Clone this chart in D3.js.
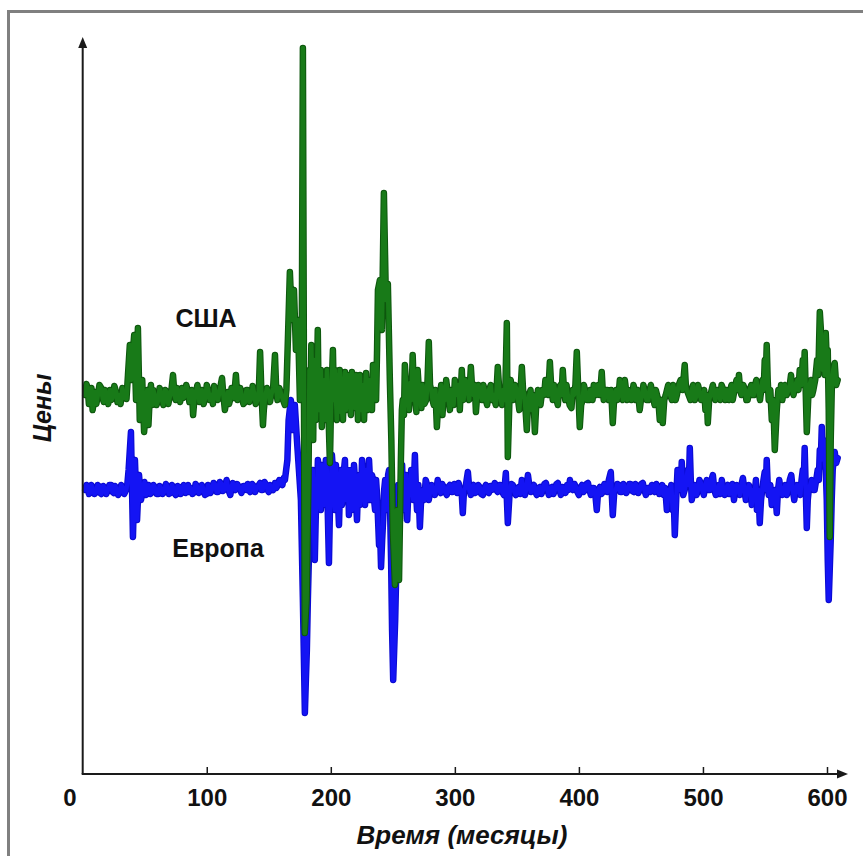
<!DOCTYPE html>
<html>
<head>
<meta charset="utf-8">
<script src="https://cdn.jsdelivr.net/npm/d3@7"></script>
<style>
  body { margin: 0; background: #fff; }
  svg { display: block; }
</style>
</head>
<body>
<svg id="chart" width="863" height="856"></svg>
<script>
// Monthly price series: [month, price]
const usaSeries = [
  [2,37.9],[3,39.0],[4,38.6],[5,37.0],[6,37.4],[7,38.6],[8,36.4],[9,37.4],[10,38.2],[11,37.0],[12,37.7],[13.5,38.9],[15,38.6],[16,37.6],[17,37.2],[18,38.4],[19,38.0],[20.5,37.0],[22,38.4],
  [23,37.4],[24,37.6],[25.5,38.8],[27,38.2],[28,37.2],[29,37.9],[30.5,37.0],[32,38.6],[33,37.6],[34,38.2],[35.3,37.5],[36.5,39.9],[38,42.9],[39,39.4],[40,41.4],[41.5,43.9],[43,37.4],
  [44.5,44.6],[46,35.4],[47,37.9],[48,39.4],[49.5,34.2],[51,36.4],[52,38.4],[53,34.9],[54,37.6],[55,38.9],[56,36.9],[57,38.4],[58,37.9],[59.5,36.9],[61,37.4],
  [62,38.6],[63,38.2],[64,37.4],[65,36.9],[66.5,38.4],[68,38.2],[69,37.0],[70,37.6],[71.5,38.4],[72.8,39.9],[74,37.9],[75,37.4],[76,38.6],[77,38.0],[78.5,37.2],[80,38.6],[81,37.6],[82,37.7],[83.5,38.9],[85,38.2],
  [86,37.2],[87,37.6],[88,38.4],[89,35.9],[90,37.4],[91,38.0],[92.5,38.9],[94,37.2],[95,37.9],[96,38.4],[97.5,37.0],[99,37.7],[100,38.9],[101,38.5],[102.5,37.4],[104,37.9],[105,37.0],[106,38.8],[107.5,38.0],[109,37.4],
  [110.5,38.4],[112.3,39.6],[113.4,37.9],[114.6,36.4],[116,37.4],[117,38.2],[118,37.0],[119,37.5],[120,38.6],[121,38.4],[122,37.6],[123.5,39.9],[124.8,37.4],[126,37.6],[127,38.6],[128,38.0],[129.5,37.0],[131,37.2],[132,38.4],[133,38.4],
  [134.5,37.2],[136,37.6],[137,38.8],[138,38.2],[139.5,37.0],[141,37.4],[142,38.4],[143,42.2],[144,38.4],[145.3,34.9],[146,36.4],[147,37.6],[148.5,38.6],[150,38.2],[151,37.2],[152,37.9],[153.5,38.6],[155,41.9],[156,38.4],[157,37.4],
  [158.5,38.6],[160,38.0],[161.5,37.4],[163,36.9],[164.2,38.4],[165.4,43.4],[167,50.2],[168.6,45.4],[170.3,48.4],[171.9,42.4],[173.5,45.4],[175.1,37.4],[176.5,39.4],
  [177.5,72.6],[179,14.1],[180.5,17.4],[181.3,24.0],[182,29.4],[182.8,40.4],[183.5,35.4],[184.3,42.9],[185,38.4],[185.8,33.4],[186.5,41.4],[187.3,37.9],[188,35.4],[188.8,39.4],[189.5,44.4],[190.3,36.4],[191.2,37.4],[192,40.4],
  [192.8,34.7],[193.6,38.9],[194.4,36.4],[195.2,39.4],[196,35.4],[196.9,40.4],[197.7,37.9],[198.5,34.4],[199.3,31.1],[200.1,36.4],[200.9,39.4],[201.7,42.4],[202.5,37.4],[203.3,40.4],[204,38.0],[204.9,35.4],[205.6,39.9],[206.4,36.2],
  [207.2,40.4],[208.1,38.4],[209,36.4],[209.8,35.4],[210.6,38.4],[211.4,40.2],[212.2,36.4],[213,37.0],[213.8,39.9],[214.6,36.9],[215.4,38.5],[216.2,35.9],[217,40.2],[217.9,37.4],[218.7,39.4],[219.5,36.6],[220.3,39.9],[221.1,38.6],
  [221.9,35.4],[222.7,38.4],[223.5,39.9],[224.3,36.4],[225.1,38.9],[226,37.0],[226.8,35.4],[227.6,38.4],[228.4,40.1],[229.2,37.4],[230,36.4],[230.8,39.4],[231.6,37.4],[232.4,38.2],[233.2,36.4],[234,40.9],[234.9,37.9],[235.7,39.4],
  [236.5,37.4],[237.3,42.4],[238,48.4],[239.6,49.4],[241.2,44.4],[242.8,58.1],[244.4,47.4],[246,49.0],[247.6,39.4],[248.8,33.4],[250,24.4],[251.7,18.9],
  [253.3,26.4],[255,19.4],[256.5,31.4],[257.3,36.4],[258,37.4],[259,35.9],[259.7,40.9],[261,38.4],[262,37.9],[263,36.4],[264,39.1],[265,37.4],[266,41.9],[267,38.4],[268,37.4],[269,36.2],[270,40.4],
  [271,38.4],[272,37.9],[273,36.6],[274,38.9],[275.5,37.0],[277,37.4],[278,39.4],[279,43.2],[280,38.9],[281,38.4],[282,37.4],[283,36.9],[284.3,38.4],[285.5,34.7],[286.8,37.4],[288,37.9],[289,38.9],[290,35.9],[291,37.9],[292,37.4],
  [293,39.4],[294,38.4],[295,37.4],[296,36.4],[297,38.4],[298,37.9],[299,36.9],[300,39.4],[301,38.4],[302,37.9],[303,38.9],[304,36.4],[305.6,40.4],[306.3,38.4],[307,37.4],[308.5,39.4],[310,38.9],[311.5,37.4],[312.9,40.7],
  [314,38.4],[315,37.9],[316,38.9],[317,36.2],[318,37.9],[319,38.9],[320.5,37.9],[322,37.4],[323,38.9],[324,38.4],[325,37.4],[326,36.9],[327.5,38.4],[329,38.9],[330,37.4],[331,37.9],[333,36.9],[334.6,40.7],[335.8,38.4],[337,37.4],
  [338,36.9],[339,38.4],[340.5,37.4],[341.9,45.1],[342.7,31.7],[344,37.4],[345,39.4],[346,38.4],[347,37.4],[348.5,38.9],[350,38.4],[351,37.4],[352,36.4],[353,38.4],[354,40.7],[355,38.4],[356,37.9],[357,36.4],[358,34.4],
  [359,36.9],[360,37.9],[361,38.4],[362,36.4],[363.3,37.9],[364.5,34.2],[365.8,37.4],[367,38.4],[368,37.4],[369,36.9],[370.5,38.4],[372,37.9],[373,39.4],[374,38.9],[375.3,37.9],[376.6,41.2],[377.8,38.4],[379,37.4],[380,38.9],[381,38.2],
  [382,37.4],[383,36.9],[384,38.4],[385,38.9],[386,37.9],[387,40.4],[388,38.4],[389,37.4],[390,38.9],[391,37.9],[392.5,36.9],[394,36.6],[395,38.4],[396,37.9],[397.2,38.9],[398.3,42.2],[399.5,38.4],[400.7,34.7],[401.8,36.9],[403,37.4],
  [404,38.9],[405,38.4],[406.5,37.4],[408,37.4],[409,38.4],[410,37.9],[411,37.4],[412,38.9],[413,38.4],[414,37.9],[415.5,38.9],[417,37.9],[418.4,40.2],[419.2,38.4],[420,37.4],[421.5,38.4],[423,38.4],[424,37.4],[425,37.4],[426,38.4],[427.3,35.1],
  [428.6,37.9],[430,38.4],[431,37.4],[432,37.9],[433,39.4],[434,38.9],[435.5,37.4],[437,39.4],[438,38.4],[439,37.4],[440,38.4],[441,37.9],[442.5,37.4],[444,38.9],[445,38.4],[446,37.4],[447.5,38.4],[449,36.4],[450,37.4],[451,37.9],
  [452,38.9],[453,38.4],[454.5,37.4],[456,37.4],[457,38.4],[458,38.9],[459.5,37.9],[461,36.9],[462,38.4],[463,37.9],[464,37.4],[465.2,35.4],[466.4,37.4],[467.6,35.1],[468.8,37.4],[470,37.9],[471,38.4],[472,38.9],[473.5,37.9],[475,37.4],
  [476,38.9],[477,38.4],[478,37.4],[479,37.9],[480.5,38.9],[482,39.4],[483.6,38.4],[485.3,40.9],[486.2,38.9],[487,38.4],[488.5,37.9],[490,37.4],[491,38.4],[492,38.9],[493.5,37.4],[495,37.9],[496,38.9],[497,38.4],[498.5,37.4],[500,37.4],
  [501,38.4],[502,36.4],[503,37.9],[503.9,35.1],[505,37.4],[506,37.9],[507,38.4],[508,38.9],[509,37.9],[510,37.4],[511.5,38.4],[513,37.9],[514,37.4],[515,38.9],[516.5,38.4],[518,37.4],[519,38.4],[520,37.9],[521,37.4],[522,38.4],
  [523,38.9],[524,37.4],[525.5,38.4],[527,39.4],[528,38.4],[529,39.9],[530,38.4],[531,37.9],[532.5,38.9],[534,38.4],[535,37.4],[536,37.4],[537.5,38.4],[539,38.9],[540,37.9],[541,37.9],[542,38.9],[543,39.4],[544.5,38.4],[546,37.4],
  [547,38.4],[548,39.4],[549,38.4],[549.8,41.4],[550.6,39.4],[551.4,42.9],[552.2,39.4],[553,37.4],[554.3,38.4],[555.5,35.4],[556.7,37.4],[557.9,32.4],[559.5,36.4],[560.8,38.4],[562,37.9],[563,38.9],[564,37.4],[565,38.4],[566,38.9],
  [567.5,37.9],[569,38.4],[570,38.9],[571,39.9],[572,38.4],[573,37.9],[574.5,38.9],[576,39.4],[577,38.4],[578,40.4],[579.3,38.9],[580.5,41.4],[581.3,39.4],[582,42.2],[583.7,34.2],[585,37.9],[586,38.9],[587,39.4],[588,37.9],
  [589,38.4],[590.5,39.4],[592,41.4],[593,39.9],[594.2,46.2],[595.8,42.9],[596.6,40.4],[597.4,41.4],[598.2,39.9],[599,44.1],[599.8,41.4],[600.6,42.4],[601.4,36.4],[602.2,23.7],[603,33.4],[604,39.4],[605,40.4],[606.2,41.1],[607.4,38.9],
  [608.6,39.4]
];

const europeSeries = [
  [2,28.4],[3,28.9],[4,28.7],[5,28.0],[6,28.1],[7,28.9],[8,28.6],[9.5,28.0],[11,28.2],[12,28.9],[13,28.8],[14,28.1],[15,28.0],[16.5,28.8],[18,28.5],[19,28.0],[20,28.3],[21.5,28.9],[23,28.9],[24,28.2],
  [25,28.1],[26,28.8],[27,28.6],[28.5,27.9],[30,28.2],[31,28.9],[32,28.7],[33.5,28.0],[35,28.4],[36,29.0],[37,30.4],[38.9,34.2],[40.5,23.7],[42.1,31.4],[43.8,25.4],
  [45.4,29.9],[47,27.4],[48.6,28.6],[49.8,29.2],[51,27.9],[52,28.4],[53,28.9],[54.5,28.0],[56,28.2],[57,28.9],[58,28.7],[59.5,28.0],[61,28.0],[62,28.8],[63,28.6],[64.5,28.0],[66,28.3],
  [67,29.0],[68,28.8],[69.5,28.0],[71,28.1],[72,28.9],[73,28.6],[74,28.1],[75,27.9],[76.5,28.8],[78,28.7],[79,28.0],[80,28.4],[81.5,28.9],[83,28.1],[84,28.6],[85,28.9],[86,28.2],[87,28.6],[88.5,28.0],[90,28.2],
  [91,29.0],[92,28.8],[93.5,28.1],[95,28.3],[96,28.9],[97,28.6],[98.5,27.9],[100,28.0],[101,28.9],[102,28.7],[103,28.1],[104,28.4],[105.5,29.1],[107,28.9],[108,28.2],[109,28.2],[110.5,29.2],[112,29.0],[113,28.3],[114,28.4],
  [115,28.8],[116,29.4],[117.5,28.4],[119,27.9],[120,28.7],[121,29.1],[122,28.6],[123,28.4],[124.5,29.0],[126,28.7],[127,28.4],[128,28.1],[129.5,28.8],[131,28.8],[132,28.4],[133,29.0],[134,28.4],[135,28.2],[136.5,29.0],[138,28.8],
  [139,28.2],[140,28.5],[141.5,28.8],[143,29.1],[144,28.4],[145,28.4],[146.5,29.2],[148,28.9],[149,28.4],[150,28.2],[151,28.9],[152,28.6],[153.5,28.4],[155,29.1],[156,28.6],[157,28.8],[158.5,29.4],[160,29.1],[161,28.9],[162,29.6],
  [163,29.4],[164,30.4],[165,31.4],[166,35.4],[167.8,37.4],[169.4,34.4],[171,36.9],[172.7,33.4],[174.3,30.4],[175.9,27.4],[177.5,17.4],[179.1,6.1],
  [179.9,9.4],[180.7,12.4],[181.5,17.4],[182.3,21.4],[183.1,27.4],[183.9,25.4],[184.7,29.4],[185.5,30.4],[186.3,25.4],[187.1,21.4],[187.9,25.9],[188.8,27.4],[189.6,31.4],[190.4,30.4],[191.2,27.9],[192,26.4],[192.8,30.9],[193.6,29.4],
  [194.4,26.9],[195.2,27.4],[196,31.4],[196.8,30.4],[197.7,25.4],[198.5,21.1],[199.3,26.4],[200.1,28.4],[200.9,31.9],[201.7,30.4],[202.5,27.4],[203.3,26.4],[204.1,30.9],[204.9,29.4],[205.7,27.4],[206.6,24.9],[207.4,28.4],[208.2,30.4],
  [209,26.9],[209.8,27.4],[210.6,30.4],[211.4,31.4],[212.2,27.4],[213,28.4],[213.8,30.4],[214.6,25.9],[215.4,28.9],[216.3,30.4],[217.1,26.4],[217.9,27.4],[218.7,30.9],[219.5,29.4],[220.3,27.4],[221.1,25.4],[221.9,28.4],[222.7,29.9],
  [223.5,26.9],[224.4,27.9],[225.2,31.4],[226,30.4],[226.8,28.4],[227.6,26.9],[228.4,30.4],[229.2,28.9],[230,27.4],[230.8,31.4],[231.6,29.4],[232.4,27.4],[233.2,29.9],[234.1,29.4],[234.9,27.4],[235.7,26.4],[236.5,29.4],[237.3,27.9],
  [238.1,25.4],[238.9,22.9],[239.7,24.4],[240.5,20.7],[241.4,23.4],[242.2,25.4],[243,28.4],[243.8,29.4],[244.6,26.4],[245.4,27.4],[246.2,29.9],[247,30.4],[247.8,26.4],[248.6,21.4],[249.4,14.4],[250.3,9.4],
  [251.9,15.4],[253.5,24.4],[254.3,28.9],[255.1,27.4],[255.9,25.4],[256.7,29.4],[257.5,30.9],[258.4,26.4],[259.2,27.9],[260,28.4],[260.8,29.9],[261.6,25.4],[262.4,27.9],[263.2,29.4],[264,27.9],[264.8,30.4],[265.6,28.4],[266.5,27.4],
  [267.8,31.9],[268.6,28.4],[269.5,26.4],[270.6,28.9],[271.8,24.7],[273,27.9],[274,28.4],[275.3,27.4],[276.5,29.4],[277.7,28.9],[279,27.4],[280.2,28.4],[281.4,28.9],[282.6,28.4],[283.8,27.9],[285,28.4],[286.2,29.4],[287.4,28.4],
  [288.6,28.1],[289.8,29.0],[291,28.7],[292.2,28.2],[293.5,27.9],[294.7,28.7],[296,28.9],[297.1,28.2],[298.3,28.2],[299.5,29.0],[300.7,28.7],[301.9,28.1],[303,29.1],[304.3,28.4],[305.6,27.9],[306.4,26.1],[307.4,28.4],[308.5,28.6],
  [309.5,29.4],[310.5,30.2],[311.7,28.4],[312.9,27.9],[314,28.7],[315,28.9],[316.3,28.1],[317.7,28.2],[318.8,28.9],[320,28.7],[321.3,28.0],[322.6,27.9],[323.8,28.6],[325,28.9],[326.2,28.2],[327.4,28.1],[328.6,28.8],[329.8,28.4],
  [331,28.7],[332.2,29.1],[333.4,28.4],[334.6,28.2],[335.8,28.9],[337,28.9],[338.2,28.2],[339.5,27.9],[341.1,30.1],[342.7,25.1],[344.3,28.4],[345.5,29.0],[346.7,28.9],[348,28.2],[349.2,27.9],[350.4,28.6],[351.6,28.7],[352.8,28.0],
  [354,29.4],[355.2,28.6],[356.5,27.9],[357.7,28.6],[358.9,29.9],[360.1,28.8],[361.3,28.2],[362.5,28.7],[363.7,28.9],[364.9,28.2],[366,27.9],[367.3,28.6],[368.6,28.7],[369.8,28.0],[371,28.4],[372.2,29.0],[373.4,29.1],[374.6,28.4],
  [375.8,27.9],[377,28.6],[378.3,28.7],[379.5,28.0],[380.7,28.4],[381.9,29.0],[383,29.1],[384.3,28.4],[385.5,27.9],[386.7,28.7],[388,28.6],[389.2,28.1],[390.4,28.9],[391.6,28.4],[392.8,29.4],[394,28.6],[395.2,28.4],[396.4,29.0],
  [397.6,28.7],[398.8,28.2],[400,27.9],[401.2,28.6],[402.5,28.9],[403.7,28.2],[405,28.4],[406.1,29.0],[407.3,29.1],[408.5,28.4],[409.7,27.9],[410.9,28.6],[412,28.6],[413.2,28.0],[414.4,26.4],[415.6,28.4],[416.9,28.7],[418.1,28.0],
  [419.3,28.2],[420.5,29.0],[421.7,28.9],[422.9,28.2],[424.1,29.4],[425.7,30.2],[427.3,25.9],[428.5,28.2],[429.7,28.4],[431,29.0],[432.2,28.9],[433.4,28.2],[434.6,28.2],[435.8,29.0],[437,28.7],[438.2,28.1],[439.4,28.4],[440.6,29.0],
  [441.8,29.0],[443,28.3],[444.3,28.2],[445.5,29.0],[446.7,28.8],[447.9,28.1],[449.1,28.4],[450.3,29.0],[451.5,29.1],[452.8,28.4],[454,27.9],[455.2,28.6],[456.4,28.6],[457.6,28.2],[458.8,28.9],[460,28.4],[461.2,28.2],[462.4,29.0],
  [463.6,28.7],[464.8,28.0],[466,28.4],[467.2,28.9],[468.4,27.9],[469.6,28.6],[470.9,26.4],[472.2,28.4],[473.5,27.9],[474.5,28.9],[475.6,26.4],[476.5,27.4],[477.3,23.9],[478.4,27.4],[479.5,30.4],[480.4,28.4],[481.3,29.4],[482.1,28.4],
  [482.9,31.2],[484.1,27.9],[485.3,28.4],[486.5,29.4],[487.7,30.4],[488.6,28.9],[489.4,32.6],[490.2,29.4],[491,27.4],[492.3,28.4],[493.5,28.9],[494.8,27.9],[496,28.4],[497.2,29.4],[498.3,29.1],[499.5,28.4],[500.7,27.9],[501.9,28.9],
  [503.1,29.4],[504.4,28.4],[505.6,28.4],[506.8,29.4],[508,29.9],[509.2,28.4],[510.4,27.9],[511.6,28.4],[512.8,28.9],[514,28.0],[515.2,29.4],[516.4,28.4],[517.6,27.9],[518.8,28.6],[520,28.9],[521.3,28.0],[522.5,28.4],[523.7,29.0],
  [525,27.4],[526.1,28.4],[527.3,28.9],[528.6,28.4],[529.8,27.9],[531,28.9],[532.2,29.6],[533.4,28.4],[534.6,27.4],[535.8,28.4],[537,28.9],[538.2,28.4],[539.4,26.9],[540.6,28.4],[541.8,28.2],[542.7,29.4],[543.5,26.4],[544.7,28.4],
  [545.8,25.1],[546.8,27.4],[547.8,28.4],[548.8,29.4],[549.8,30.2],[550.6,28.4],[551.4,31.4],[552.2,28.9],[553,27.9],[554.3,28.9],[555.5,26.9],[556.7,27.9],[557.9,28.4],[558.7,27.4],[559.5,26.1],[560.5,28.4],[561.5,29.4],[562.7,28.4],
  [564,27.9],[565.2,28.4],[566.4,28.9],[567.6,27.9],[568.8,28.4],[570,29.4],[571.2,29.9],[572.4,28.4],[573.6,27.4],[574.8,28.4],[576,28.9],[577.2,28.4],[578.5,27.9],[579.5,29.4],[580.5,30.4],[581.3,29.4],[582,32.6],[583.7,24.6],
  [584.5,27.4],[585.3,28.4],[586.5,28.9],[587.7,29.4],[588.9,28.4],[590,28.4],[591.3,29.4],[592.5,30.4],[593.4,29.4],[594.2,32.4],[595,31.4],[595.8,34.7],[596.6,32.4],[597.4,33.4],[598.2,31.4],[599,30.4],[599.8,27.4],[600.6,21.4],
  [601.4,17.4],[602.2,20.4],[603,23.4],[603.8,27.4],[604.6,30.4],[605.4,31.4],[606.2,32.2],[607.4,31.1],[608.6,31.6]
];

const xTickValues = [0, 100, 200, 300, 400, 500, 600];
const seriesNames = ["США", "Европа"];
const xTitle = "Время (месяцы)";
const yTitle = "Цены";

const svg = d3.select("#chart");
const font = "'Liberation Sans', Arial, sans-serif";

// Frame around the figure
svg.append("rect")
  .attr("x", 8.5).attr("y", 11.5)
  .attr("width", 900).attr("height", 900)
  .attr("fill", "#fff")
  .attr("stroke", "#808080").attr("stroke-width", 3);

const x = d3.scaleLinear().domain([0, 600]).range([82.7, 827]);
const y = d3.scaleLinear().domain([0, 73.7]).range([774, 37]);

const line = d3.line()
  .x(d => x(d[0]))
  .y(d => y(d[1]));

// Price lines (Europe underneath, USA on top)
function drawSeries(data, edge, body) {
  svg.append("path")
    .datum(data)
    .attr("d", line)
    .attr("fill", "none")
    .attr("stroke", edge)
    .attr("stroke-width", 6.5)
    .attr("stroke-linejoin", "round")
    .attr("stroke-linecap", "round");
  svg.append("path")
    .datum(data)
    .attr("d", line)
    .attr("fill", "none")
    .attr("stroke", body)
    .attr("stroke-width", 4.5)
    .attr("stroke-linejoin", "round")
    .attr("stroke-linecap", "round");
}
drawSeries(europeSeries, "#0a0ad0", "#1414f4");
drawSeries(usaSeries, "#0d560d", "#187a18");

// Axes with arrowheads
const x0 = x(0), yBase = y(0);
const axisColor = "#1a1a1a";
svg.append("line")
  .attr("x1", x0).attr("y1", yBase).attr("x2", x0).attr("y2", 46)
  .attr("stroke", axisColor).attr("stroke-width", 2);
svg.append("path")
  .attr("d", `M${x0},37 L${x0 - 4.5},48 L${x0 + 4.5},48 Z`)
  .attr("fill", axisColor);
svg.append("line")
  .attr("x1", x0 - 1).attr("y1", yBase).attr("x2", 839).attr("y2", yBase)
  .attr("stroke", axisColor).attr("stroke-width", 2);
svg.append("path")
  .attr("d", `M848,${yBase} L837,${yBase - 4.5} L837,${yBase + 4.5} Z`)
  .attr("fill", axisColor);

const xAxis = d3.axisBottom(x)
  .tickValues(xTickValues.filter(v => v > 0))
  .tickSizeInner(-7)
  .tickSizeOuter(0)
  .tickPadding(15)
  .tickFormat(d3.format("d"));

const gx = svg.append("g")
  .attr("transform", `translate(0,${yBase})`)
  .call(xAxis);
gx.select(".domain").remove();
gx.selectAll(".tick line").attr("stroke", axisColor).attr("stroke-width", 1.5);
gx.selectAll(".tick text")
  .attr("fill", "#111")
  .style("font-family", font)
  .style("font-weight", "bold")
  .style("font-size", "24px");

// Origin label sits left of the corner
svg.append("text")
  .attr("x", x(xTickValues[0]) - 12.7)
  .attr("y", yBase + 32)
  .attr("text-anchor", "middle")
  .attr("fill", "#111")
  .style("font-family", font)
  .style("font-weight", "bold")
  .style("font-size", "24px")
  .text(xTickValues[0]);

// Axis titles
svg.append("text")
  .attr("x", 462).attr("y", 844)
  .attr("text-anchor", "middle")
  .attr("fill", "#111")
  .style("font-family", font)
  .style("font-weight", "bold")
  .style("font-style", "italic")
  .style("font-size", "26px")
  .text(xTitle);

svg.append("text")
  .attr("transform", "translate(51,408) rotate(-90)")
  .attr("text-anchor", "middle")
  .attr("fill", "#111")
  .style("font-family", font)
  .style("font-weight", "bold")
  .style("font-style", "italic")
  .style("font-size", "25px")
  .text(yTitle);

// Series labels
svg.append("text")
  .attr("x", 206).attr("y", 327)
  .attr("text-anchor", "middle")
  .attr("fill", "#111")
  .style("font-family", font)
  .style("font-weight", "bold")
  .style("font-size", "25px")
  .text(seriesNames[0]);

svg.append("text")
  .attr("x", 218).attr("y", 557)
  .attr("text-anchor", "middle")
  .attr("fill", "#111")
  .style("font-family", font)
  .style("font-weight", "bold")
  .style("font-size", "25px")
  .text(seriesNames[1]);
</script>
</body>
</html>
